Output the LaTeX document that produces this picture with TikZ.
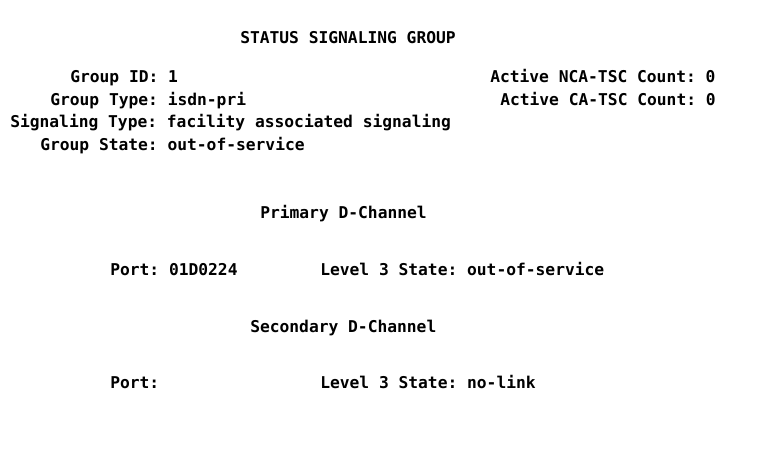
\documentclass[tikz,border=0pt]{standalone}
\usepackage{fontspec}
\setmonofont{DejaVu Sans Mono}
\tikzset{
  scr/.style={anchor=base west, inner sep=0pt, font=\ttfamily\bfseries\fontsize{12.2}{14}\selectfont},
}
% column -> x in px, text base line -> y in px
\newcommand{\scrline}[4]{\node[scr] (#1) at ({10+10*#2},{#3+5}) {#4};}
\begin{document}
\begin{tikzpicture}[x=0.75pt,y=-0.75pt]
  \useasboundingbox[fill=white] (0,0) rectangle (761,461);
  \scrline{title}{23}{38}{STATUS SIGNALING GROUP}
  \scrline{gid}{6}{77}{Group ID: 1}
  \scrline{nca}{48}{77}{Active NCA-TSC Count: 0}
  \scrline{gtype}{4}{100}{Group Type: isdn-pri}
  \scrline{ca}{49}{100}{Active CA-TSC Count: 0}
  \scrline{stype}{0}{122}{Signaling Type: facility associated signaling}
  \scrline{gstate}{3}{145}{Group State: out-of-service}
  \scrline{prim}{25}{213}{Primary D-Channel}
  \scrline{pport}{10}{270}{Port: 01D0224}
  \scrline{plevel}{31}{270}{Level 3 State: out-of-service}
  \scrline{sec}{24}{327}{Secondary D-Channel}
  \scrline{sport}{10}{383}{Port:}
  \scrline{slevel}{31}{383}{Level 3 State: no-link}
\end{tikzpicture}
\end{document}
